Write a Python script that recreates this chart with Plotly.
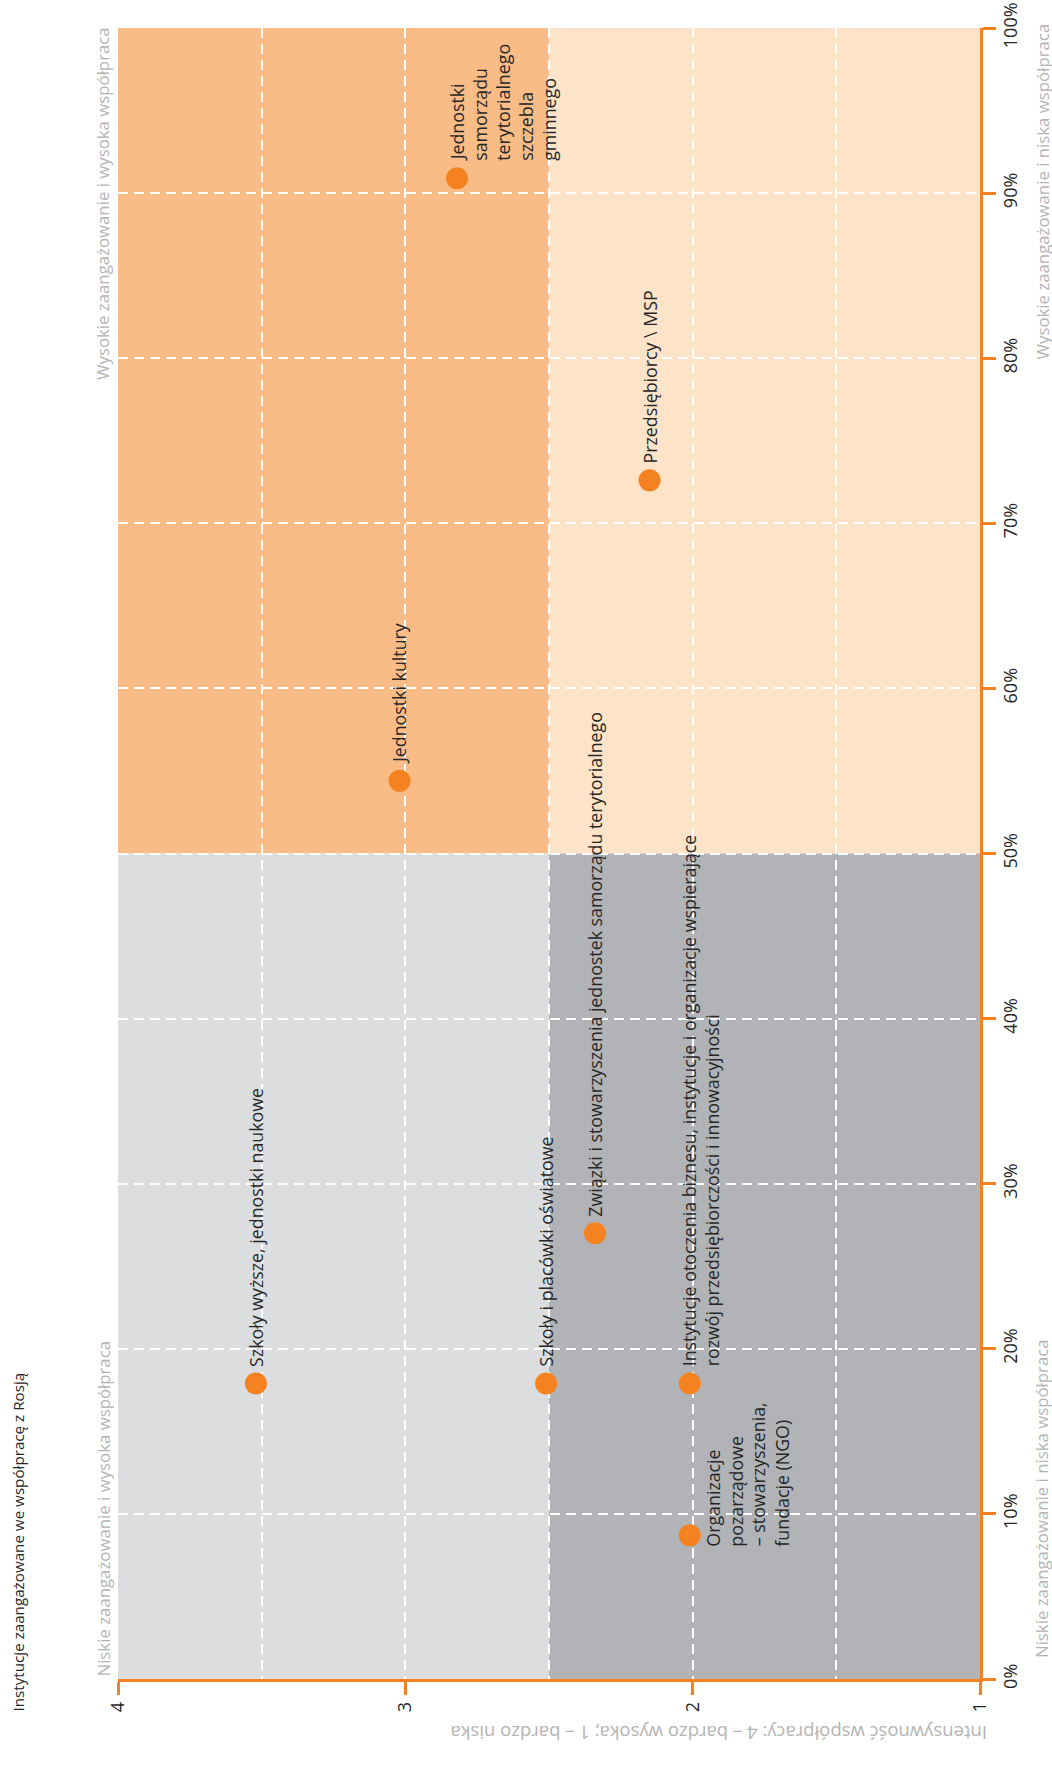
import plotly.graph_objects as go

# --- data -------------------------------------------------------------------
institutions = [
    "Szkoły wyższe, jednostki naukowe",
    "Szkoły i placówki oświatowe",
    "Instytucje otoczenia biznesu, instytucje i organizacje wspierające<br>rozwój przedsiębiorczości i innowacyjności",
    "Organizacje<br>pozarządowe<br>– stowarzyszenia,<br>fundacje (NGO)",
    "Związki i stowarzyszenia jednostek samorządu terytorialnego",
    "Jednostki kultury",
    "Przedsiębiorcy \\ MSP",
    "Jednostki<br>samorządu<br>terytorialnego<br>szczebla<br>gminnego",
]
# intensity of cooperation: 4 = very high, 1 = very low
intensity = [3.52, 2.51, 2.01, 2.01, 2.34, 3.02, 2.15, 2.82]
# share of institutions engaged in cooperation (%)
engagement = [17.9, 17.9, 17.9, 8.7, 27.0, 54.4, 72.6, 90.9]

intensity_ticks = [4, 3, 2, 1]
engagement_ticks = [0, 10, 20, 30, 40, 50, 60, 70, 80, 90, 100]

title_text = "Instytucje zaangażowane we współpracę z Rosją"
intensity_title = "Intensywność współpracy: 4 – bardzo wysoka; 1 – bardzo niska"
quadrant_texts = {
    "low_high": "Niskie zaangażowanie i wysoka współpraca",
    "high_high": "Wysokie zaangażowanie i wysoka współpraca",
    "low_low": "Niskie zaangażowanie i niska współpraca",
    "high_low": "Wysokie zaangażowanie i niska współpraca",
}

# --- styling ----------------------------------------------------------------
ORANGE = "#F58220"
ORANGE_Q = "#F9BC87"
PEACH_Q = "#FDE3C7"
LIGHT_GREY_Q = "#DCDDDF"
DARK_GREY_Q = "#B2B3B6"
LABEL_GREY = "#B4B4B4"
TEXT = "#262626"
FONT = "Open Sans"

W, H = 1052, 1785
PL, PR, PT, PB = 118, 980, 28, 1679  # plot area in pixels


def paper_x(px):
    return (px - PL) / (PR - PL)


def paper_y(py):
    return (PB - py) / (PB - PT)


fig = go.Figure()

# quadrant backgrounds
quadrants = [
    (4, 2.5, 50, 100, ORANGE_Q),
    (2.5, 1, 50, 100, PEACH_Q),
    (4, 2.5, 0, 50, LIGHT_GREY_Q),
    (2.5, 1, 0, 50, DARK_GREY_Q),
]
for x0, x1, y0, y1, col in quadrants:
    fig.add_shape(type="rect", xref="x", yref="y", x0=x0, x1=x1, y0=y0, y1=y1,
                  fillcolor=col, line=dict(width=0), layer="below")

fig.add_trace(go.Scatter(
    x=intensity, y=engagement, mode="markers",
    marker=dict(size=22, color=ORANGE, line=dict(width=0)),
    hoverinfo="skip", showlegend=False,
))

# point labels, one annotation per text line, rotated to read upwards
LINE = 23
label_place = {3: (23, -12)}  # NGO label sits to the right, starting below its point
for i, (name, xv, yv) in enumerate(zip(institutions, intensity, engagement)):
    xoff, yoff = label_place.get(i, (0, 16))
    for j, line in enumerate(name.split("<br>")):
        fig.add_annotation(
            x=xv, y=yv, xref="x", yref="y", text=line, showarrow=False,
            textangle=-90, xanchor="center", yanchor="bottom",
            xshift=xoff + j * LINE, yshift=yoff, borderpad=0,
            font=dict(family=FONT, size=17.8, color=TEXT),
        )

# quadrant captions outside the plot
qfont = dict(family=FONT, size=16.8, color=LABEL_GREY)
fig.add_annotation(xref="paper", yref="paper", x=0, y=0, xanchor="right", yanchor="bottom",
                   xshift=-3, yshift=2, text=quadrant_texts["low_high"], textangle=-90,
                   showarrow=False, font=qfont, borderpad=0)
fig.add_annotation(xref="paper", yref="paper", x=0, y=1, xanchor="right", yanchor="top",
                   xshift=-3, yshift=2, text=quadrant_texts["high_high"], textangle=-90,
                   showarrow=False, font=qfont, borderpad=0)
fig.add_annotation(xref="paper", yref="paper", x=1, y=0, xanchor="left", yanchor="bottom",
                   xshift=49, yshift=20, text=quadrant_texts["low_low"], textangle=-90,
                   showarrow=False, font=qfont, borderpad=0)
fig.add_annotation(xref="paper", yref="paper", x=1, y=1, xanchor="left", yanchor="top",
                   xshift=49, yshift=5, text=quadrant_texts["high_low"], textangle=-90,
                   showarrow=False, font=qfont, borderpad=0)

# intensity axis title (upside down) and chart title
fig.add_annotation(xref="paper", yref="paper", x=1, y=paper_y(1734), xanchor="right",
                   yanchor="middle", xshift=8, text=intensity_title, textangle=180,
                   showarrow=False, font=dict(family=FONT, size=18.5, color=LABEL_GREY),
                   borderpad=0)
fig.add_annotation(xref="paper", yref="paper", x=paper_x(17), y=paper_y(1713),
                   xanchor="center", yanchor="bottom", text=title_text, textangle=-90,
                   showarrow=False, font=dict(family=FONT, size=15.2, color=TEXT), borderpad=0)

GRID = dict(showgrid=True, gridcolor="white", gridwidth=1.6, griddash="10px,6px", ticks="")

fig.update_xaxes(
    range=[4, 1], tickvals=intensity_ticks, ticktext=[str(t) for t in intensity_ticks],
    tickangle=-90, showgrid=False, zeroline=False, automargin=False,
    showline=True, linecolor=ORANGE, linewidth=2.5,
    ticks="outside", ticklen=13, tickwidth=2.5, tickcolor=ORANGE,
    tickfont=dict(family=FONT, size=18, color=TEXT),
    minor=dict(tickvals=[3.5, 3, 2.5, 2, 1.5], **GRID),
)
fig.update_yaxes(
    range=[0, 100], side="right", tickvals=engagement_ticks,
    ticktext=[f"{t}%" for t in engagement_ticks], tickangle=-90,
    showgrid=False, zeroline=False, automargin=False,
    showline=True, linecolor=ORANGE, linewidth=2.5,
    ticks="outside", ticklen=13, tickwidth=2.5, tickcolor=ORANGE,
    tickfont=dict(family=FONT, size=18, color=TEXT),
    minor=dict(tickvals=[10, 20, 30, 40, 50, 60, 70, 80, 90], **GRID),
)

fig.update_layout(
    width=W, height=H, autosize=False,
    margin=dict(l=PL, r=W - PR, t=PT, b=H - PB),
    paper_bgcolor="white", plot_bgcolor="white",
    showlegend=False, font=dict(family=FONT),
)

fig.write_html("out.html", config={"displayModeBar": False})
